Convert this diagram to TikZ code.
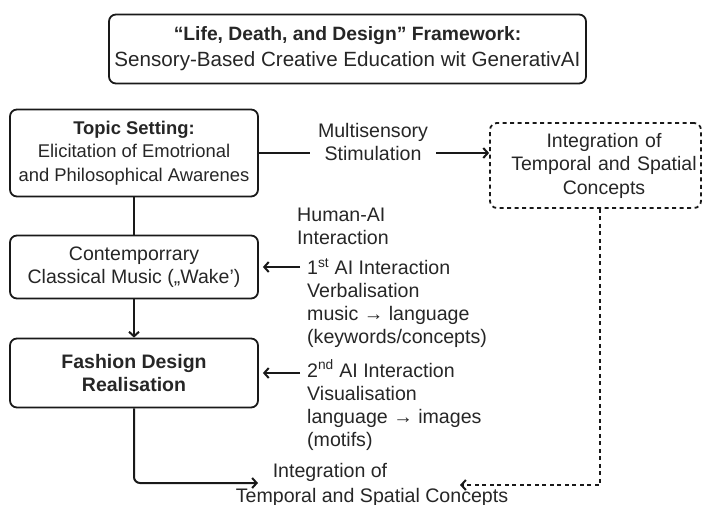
\documentclass[tikz,border=0pt]{standalone}
\usepackage{fontspec}
\setmainfont{Liberation Sans}
\usetikzlibrary{arrows.meta}
\begin{document}
\begin{tikzpicture}[x=1pt,y=-1pt,
	box/.style={draw=black!90,line width=1.8pt,rounded corners=7pt,align=center,text=black!85,font=\fontsize{19.5}{23.5}\selectfont,minimum width=248pt,inner sep=0pt},
	txt/.style={align=left,text=black!85,font=\fontsize{19.6}{23}\selectfont,inner sep=0pt},
	conn/.style={line width=2pt,draw=black!90},
	arr/.style={conn,-{Straight Barb[length=4.5pt,width=10pt]}},
	dsh/.style={dash pattern=on 4pt off 3.5pt}]
	\clip (0,0) rectangle (703,505);
	\node[box,minimum width=477pt,minimum height=69pt,font=\fontsize{19.3}{26}\selectfont] (title) at (347.5,49) {\textbf{“Life, Death, and Design” Framework:}\\\fontsize{20.6}{26}\selectfont Sensory-Based Creative Education wit GenerativAI};
	\node[box,minimum height=87pt,font=\fontsize{18.4}{23.5}\selectfont] (topic) at (134,153) {\textbf{Topic Setting:}\\Elicitation of Emotrional\\and Philosophical Awarenes};
	\node[box,minimum height=63pt] (music) at (134,267) {Contemporrary\\Classical Music („Wake’)};
	\node[box,minimum height=69pt] (fashion) at (134,373) {\textbf{Fashion Design}\\\textbf{Realisation}};
	\node[box,dsh,minimum width=211pt,minimum height=85pt,text width=205pt] (integ) at (595.5,165.5) {\hspace*{17pt}Integration of\\\hspace*{17pt}Temporal and Spatial\\\hspace*{17pt}Concepts};
	\node[txt,align=center,inner xsep=8pt] (multi) at (373,142) {Multisensory\\Stimulation};
	\node[txt,anchor=west] (human) at (297,226) {Human-AI\\Interaction};
	\node[txt,anchor=west,inner xsep=7pt] (ai1) at (300,303) {1\textsuperscript{st} AI Interaction\\Verbalisation\\music → language\\(keywords/concepts)};
	\node[txt,anchor=west,inner xsep=7pt] (ai2) at (300,405) {2\textsuperscript{nd} AI Interaction\\Visualisation\\language → images\\(motifs)};
	\node[txt] (endA) at (330,472) {Integration of};
	\node[txt] (endB) at (372,497) {Temporal and Spatial Concepts};
	\coordinate (inL) at (258,483);
	\coordinate (inR) at (460,485);
	\draw[conn] (topic.east) -- (topic.east -| multi.west);
	\draw[arr] (topic.east -| multi.east) -- (integ.west |- topic.east);
	\draw[conn] (topic.south) -- (music.north);
	\draw[arr] (music.south) -- (fashion.north);
	\draw[arr,shorten >=4pt] (ai1.west |- music.east) -- (music.east);
	\draw[arr,shorten >=4pt] (ai2.west |- fashion.east) -- (fashion.east);
	\draw[arr,rounded corners=6pt] (fashion.south) |- (inL);
	\draw[arr,dsh] ([xshift=4.5pt]integ.south) |- (inR);
\end{tikzpicture}
\end{document}
